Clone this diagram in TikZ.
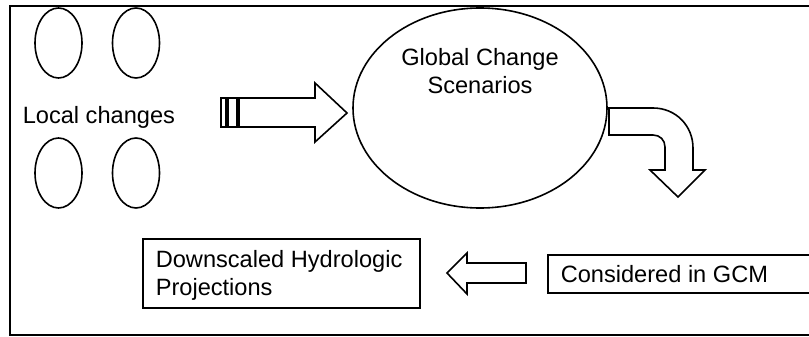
\documentclass[tikz,border=0pt]{standalone}
\usepackage{fontspec}
\setmainfont{Liberation Sans}
\usetikzlibrary{shapes.geometric}
\begin{document}
\begin{tikzpicture}[x=1pt,y=-1pt,
  line width=1.6pt,
  oval/.style={draw,ellipse,minimum width=47pt,minimum height=70pt,inner sep=0pt},
  lbl/.style={font=\fontsize{23.6}{28}\selectfont,inner sep=0pt,align=left},
  boxed/.style={draw,rectangle,inner sep=0pt},
  blockarrow/.style={draw,fill=white,line join=miter}]
\clip (0,0) rectangle (809,337);
\fill[white] (0,0) rectangle (809,337);
% outer frame
\draw[line width=2.4pt] (10,6) rectangle (840,335);
% local change ellipses
\node[oval] (e1) at (58.5,43) {};
\node[oval] (e2) at (136,43) {};
\node[oval] (e3) at (58.5,173) {};
\node[oval] (e4) at (136,173) {};
\node[lbl,anchor=base west] (local) at (22,123) {Local changes};
% big ellipse
\node[draw,ellipse,minimum width=254pt,minimum height=200pt,inner sep=0pt] (gcs) at (480,108) {};
\node[lbl,anchor=base,align=center] (gcstxt) at (480,93) {Global Change\\Scenarios};
% block arrow local -> gcs
\draw[blockarrow] (221,98) rectangle (226,127);
\draw[blockarrow] (228,98) rectangle (237,127);
\draw[blockarrow] (239,98) -- (315,98) -- (315,83) -- (347,113) -- (315,142) -- (315,127) -- (239,127) -- cycle;
% curved arrow
\draw[blockarrow] (609,108) -- (653,108) .. controls (676,108) and (693,126) .. (693,148)
  -- (693,170) -- (705,170) -- (678,197) -- (650,170) -- (665,170) -- (665,147)
  .. controls (665,140) and (660,135) .. (653,135) -- (609,135) -- cycle;
% boxes
\node[boxed,minimum width=277pt,minimum height=69pt] (down) at (281.5,273.5) {};
\node[lbl,anchor=base west] (downtxt) at (155,295) {Downscaled Hydrologic\\Projections};
\draw[line width=1.6pt] (548,255) rectangle (840,293);
\node[inner sep=0pt] (gcm) at (548,274) {};
\node[lbl,anchor=base west] (gcmtxt) at (560,282) {Considered in GCM};
% left arrow
\draw[blockarrow] (526,263) -- (467,263) -- (467,253) -- (447,273) -- (467,294) -- (467,283) -- (526,283) -- cycle;
\end{tikzpicture}
\end{document}
